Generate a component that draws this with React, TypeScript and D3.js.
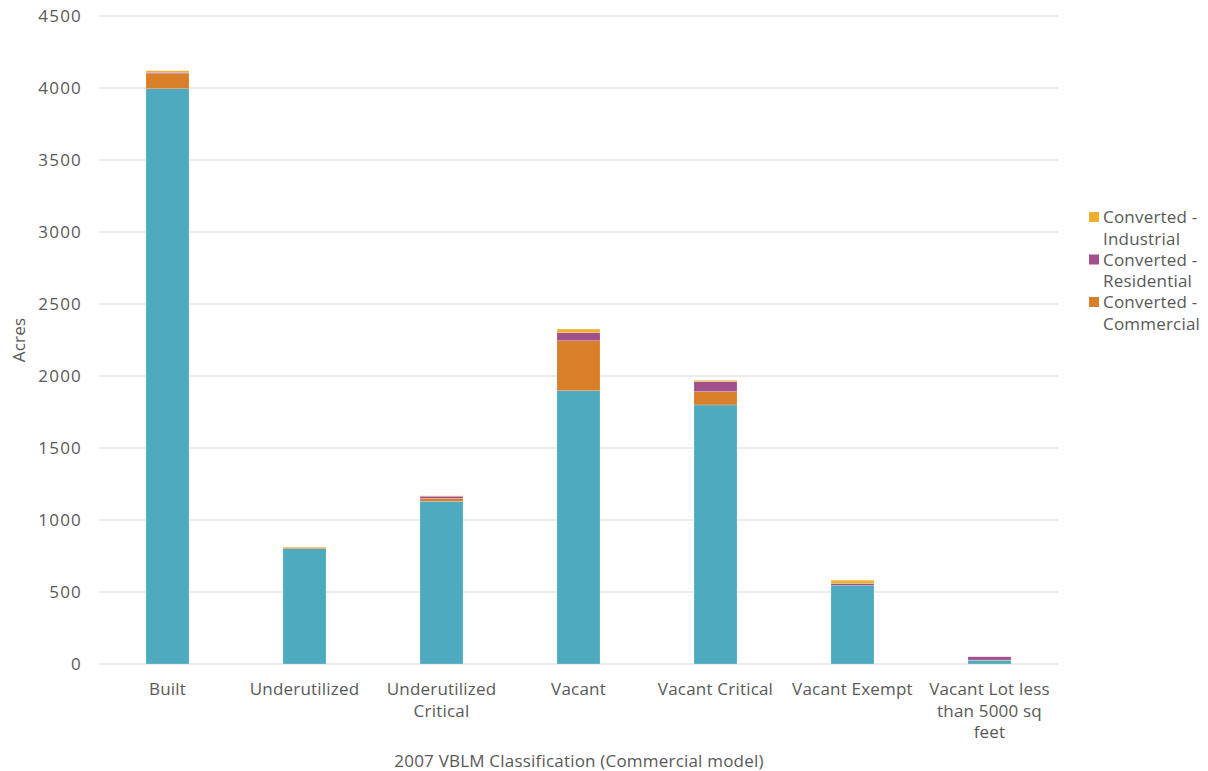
import React from "react";
import * as d3 from "d3";

const categories = [
  "Built",
  "Underutilized",
  "Underutilized\nCritical",
  "Vacant",
  "Vacant Critical",
  "Vacant Exempt",
  "Vacant Lot less\nthan 5000 sq\nfeet",
];
const remained = [3995, 801, 1130, 1898, 1799, 547, 26];
const convertedCommercial = [105, 6, 21, 347, 93, 0, 2];
const convertedResidential = [8, 0, 14, 56, 69, 12, 22];
const convertedIndustrial = [12, 6, 3, 25, 9, 23, 0];
const yTicks = [0, 500, 1000, 1500, 2000, 2500, 3000, 3500, 4000, 4500];

const seriesColors = ["#4eabbf", "#d97f2a", "#a24f8d", "#efb12c"];
const legendItems = [
  { lines: ["Converted -", "Industrial"], color: seriesColors[3] },
  { lines: ["Converted -", "Residential"], color: seriesColors[2] },
  { lines: ["Converted -", "Commercial"], color: seriesColors[1] },
];

const FONT = "'Open Sans', 'Liberation Sans', Arial, sans-serif";
const TEXT = "#595959";
const FS = 17;

export default function App() {
  const left = 99, right = 1058, top = 16, bottom = 664;
  const x = d3.scaleBand().domain(categories).range([left, right]).paddingInner(0.686).paddingOuter(0.343);
  const y = d3.scaleLinear().domain([0, 4500]).range([bottom, top]);
  const rows = categories.map((c, i) => ({
    cat: c,
    s0: remained[i],
    s1: convertedCommercial[i],
    s2: convertedResidential[i],
    s3: convertedIndustrial[i],
  }));
  const stack = d3.stack<any>().keys(["s0", "s1", "s2", "s3"])(rows);

  return (
    <svg width={1208} height={771} style={{ display: "block", position: "absolute", left: 0, top: 0 }} fontFamily={FONT} letterSpacing={0.2}>
      <rect width={1208} height={771} fill="#fff" />
      {yTicks.map((t) => (
        <g key={t}>
          <line x1={left} x2={right} y1={y(t)} y2={y(t)} stroke="#d9d9d9" strokeWidth={1} />
          <text x={82} y={y(t)} dy="0.35em" textAnchor="end" fontSize={FS} fill={TEXT} letterSpacing={1.2}>
            {t}
          </text>
        </g>
      ))}
      {stack.map((layer, li) => (
        <g key={li} fill={seriesColors[li]}>
          {layer.map((d, i) =>
            d[1] - d[0] > 0 ? (
              <rect
                key={i}
                x={x(categories[i])!}
                width={x.bandwidth()}
                y={y(d[1])}
                height={y(d[0]) - y(d[1])}
                stroke="#fff"
                strokeOpacity={0.35}
                strokeWidth={0.5}
              />
            ) : null
          )}
        </g>
      ))}
      {categories.map((c) => (
        <text key={c} x={x(c)! + x.bandwidth() / 2} y={695} textAnchor="middle" fontSize={FS} fill={TEXT}>
          {c.split("\n").map((l, j) => (
            <tspan key={j} x={x(c)! + x.bandwidth() / 2} dy={j === 0 ? 0 : 21.5}>
              {l}
            </tspan>
          ))}
        </text>
      ))}
      <text x={579} y={767} textAnchor="middle" fontSize={FS} fill={TEXT}>
        2007 VBLM Classification (Commercial model)
      </text>
      <text transform={`translate(25,340) rotate(-90)`} textAnchor="middle" fontSize={FS} fill={TEXT}>
        Acres
      </text>
      {legendItems.map((it, i) => (
        <g key={i} transform={`translate(1089, ${212 + i * 42.5})`}>
          <rect x={0} y={0} width={10} height={10} fill={it.color} />
          {it.lines.map((l, j) => (
            <text key={j} x={14} y={11 + j * 21.5} fontSize={FS} fill={TEXT}>
              {l}
            </text>
          ))}
        </g>
      ))}
    </svg>
  );
}
